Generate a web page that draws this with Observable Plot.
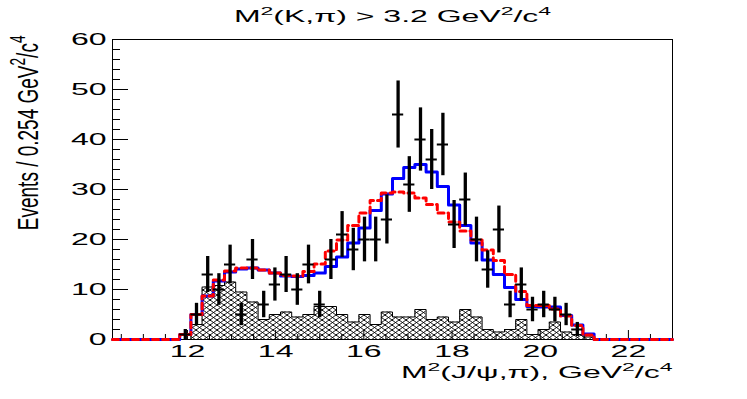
<!DOCTYPE html>
<html><head><meta charset="utf-8">
<script src="https://cdn.jsdelivr.net/npm/d3@7"></script>
<script src="https://cdn.jsdelivr.net/npm/@observablehq/plot@0.6"></script>
<style>
html,body{margin:0;padding:0;background:#fff;}
</style>
</head><body>
<div id="chart"></div>
<script>
// ---- data ----
const xMin = 10.3;
const xMax = 23.0;
const binWidth = 0.254;

// observed events per bin (50 bins)
const dataCounts = [0,0,0,0,0,0,1,5,13,10,15,5,16,7,11,13,10,15,7,16,21,18,20,20,24,45,31,40,36,39,23,28,20,14,22,7,11,6,7,6,5,2,0,0,0,0,0,0,0,0];
// total fit (blue solid)
const fitBlue = [0,0,0,0,0,0,1,5,8.7,11.7,13.5,14.1,14.3,13.9,13.3,12.7,12.6,12.8,13.3,14.6,16.5,19.3,22.3,25.8,29.1,32.2,34.4,35,33.5,30.6,26.9,22.8,19.3,15.9,13,10.4,8,6.6,6.5,6.5,4.8,2.9,1.1,0,0,0,0,0,0,0];
// alternative fit (red dashed)
const fitRed = [0,0,0,0,0,0,1,5,8.7,11.9,13.7,14.3,14.3,13.9,13.3,12.8,12.7,13.6,15.1,17.7,19.9,22.8,25.3,27.8,29.3,29.5,29.3,28.3,27,25.3,23.5,21.7,19.9,17.9,15.8,13,9.6,6.8,6.8,6.1,4.7,2.8,0.9,0,0,0,0,0,0,0];
// background (hatched)
const background = [0,0,0,0,0,0,0,3,10.5,10.8,11.5,9.5,7.5,4,5,5.5,4.5,5,6.6,6.6,5,3.5,5,3,5.5,4.5,4.5,6,4,4.5,3.5,6,4.5,2,1.5,2,4,1,2,3.5,1.5,1,0.5,0,0,0,0,0,0,0];

const xTicks = [12,14,16,18,20,22];
const yTicks = [0,10,20,30,40,50,60];
const xMinorStep = 0.5;
const yMinorStep = 2;

const titleText = "M\u00B2(K,\u03C0) > 3.2 GeV\u00B2/c\u2074";
const xLabel = "M\u00B2(J/\u03C8,\u03C0), GeV\u00B2/c\u2074";
const yLabel = "Events / 0.254 GeV\u00B2/c\u2074";

// ---- derived tables ----
const edge = i => xMin + i * binWidth;
const steps = vals => vals.map((v, i) => ({x: edge(i), y: v})).concat([{x: edge(vals.length), y: vals[vals.length - 1]}]);
const pts = dataCounts.map((n, i) => ({n, c: edge(i) + binWidth / 2, x1: edge(i), x2: edge(i + 1)})).filter(d => d.n > 0);
const xMinor = d3.range(10.5, xMax + 1e-9, xMinorStep).filter(v => !xTicks.some(t => Math.abs(t - v) < 1e-9));
const yMinor = d3.range(0, 60 + 1e-9, yMinorStep).filter(v => !yTicks.includes(v));

const FS = 16;
const FSY = 19;
const svg = Plot.plot({
  width: 747, height: 399,
  marginLeft: 112, marginRight: 75, marginTop: 39, marginBottom: 60,
  x: {domain: [xMin, xMax], axis: null},
  y: {domain: [0, 60], axis: null},
  style: {fontFamily: "'Liberation Sans', Arial, Helvetica, sans-serif", background: "white", color: "black"},
  marks: [
    Plot.areaY(steps(background), {x: "x", y: "y", curve: "step-after", fill: "url(#xhatch)"}),
    Plot.line(steps(background), {x: "x", y: "y", curve: "step-after", stroke: "black", strokeWidth: 1}),
    Plot.frame({stroke: "black", strokeWidth: 1}),
    Plot.tickY(yTicks, {y: d => d, insetRight: 560 - 16, stroke: "black"}),
    Plot.tickY(yMinor, {y: d => d, insetRight: 560 - 8, stroke: "black"}),
    Plot.tickX(xTicks, {x: d => d, insetTop: 300 - 9, stroke: "black"}),
    Plot.tickX(xMinor, {x: d => d, insetTop: 300 - 5, stroke: "black"}),
    Plot.line(steps(fitBlue), {x: "x", y: "y", curve: "step-after", stroke: "#0000ff", strokeWidth: 3}),
    Plot.line(steps(fitRed), {x: "x", y: "y", curve: "step-after", stroke: "#ff0000", strokeWidth: 3, strokeDasharray: "6,4"}),
    Plot.ruleX(pts, {x: "c", y1: d => d.n - Math.sqrt(d.n), y2: d => d.n + Math.sqrt(d.n), stroke: "black", strokeWidth: 3.3}),
    Plot.ruleY(pts, {y: "n", x1: "x1", x2: "x2", stroke: "black", strokeWidth: 2}),
    Plot.text(yTicks, {y: d => d, text: d => String(d), frameAnchor: "left", dx: -6, textAnchor: "end", lineAnchor: "middle", fontSize: FS, ariaDescription: "ytl"}),
    Plot.text(xTicks, {x: d => d, text: d => String(d), frameAnchor: "bottom", dy: 6, lineAnchor: "top", fontSize: FS, ariaDescription: "xtl"}),
    Plot.text([titleText], {text: d => d, frameAnchor: "top", dy: -18, lineAnchor: "bottom", fontSize: FS, ariaDescription: "ttl"}),
    Plot.text([xLabel], {text: d => d, frameAnchor: "bottom-right", dy: 38, textAnchor: "end", lineAnchor: "bottom", fontSize: FS, ariaDescription: "xlab"}),
    Plot.text([yLabel], {text: d => d, frameAnchor: "top-left", dx: -75, dy: -4, rotate: -90, textAnchor: "end", lineAnchor: "bottom", fontSize: FSY, ariaDescription: "ylab"})
  ]
});

// hatch pattern
const defs = d3.select(svg).insert("defs", ":first-child");
const pat = defs.append("pattern").attr("id", "xhatch").attr("patternUnits", "userSpaceOnUse").attr("width", 7).attr("height", 5);
pat.append("rect").attr("width", 7).attr("height", 5).attr("fill", "white");
pat.append("path").attr("d", "M0,0L7,5M0,5L7,0M-1,-0.714L1,0.714M6,-0.714L8,0.714M-1,5.714L1,4.286M6,5.714L8,4.286").attr("stroke", "black").attr("stroke-width", 0.9).attr("fill", "none");

// ROOT-like superscripts (larger than the Unicode ones)
const supMap = {"\u00B2": "2", "\u2074": "4"};
function superscripts(label, fs) {
  svg.querySelectorAll(`g[aria-description="${label}"] text`).forEach(t => {
    const s = t.textContent;
    const runs = [];
    for (const ch of s) {
      const sup = ch in supMap;
      const c = sup ? supMap[ch] : ch;
      if (runs.length && runs[runs.length - 1].sup === sup) runs[runs.length - 1].text += c;
      else runs.push({sup, text: c});
    }
    t.textContent = "";
    const shift = 0.42 * fs;
    runs.forEach((r, i) => {
      const ts = document.createElementNS("http://www.w3.org/2000/svg", "tspan");
      ts.textContent = r.text;
      if (r.sup) { ts.setAttribute("font-size", (0.72 * fs).toFixed(1)); ts.setAttribute("dy", (-shift).toFixed(1)); }
      else if (i > 0) ts.setAttribute("dy", shift.toFixed(1));
      t.appendChild(ts);
    });
  });
}
superscripts("ttl", FS);
superscripts("xlab", FS);
superscripts("ylab", FSY);

// horizontally stretched text, like the reference
function stretch(label, sx) {
  svg.querySelectorAll(`g[aria-description="${label}"] text`).forEach(t => {
    const tr = t.getAttribute("transform") || "";
    if (tr.includes("rotate")) t.setAttribute("transform", tr.replace(/rotate\(/, `scale(${sx},1) rotate(`));
    else t.setAttribute("transform", tr + ` scale(${sx},1)`);
  });
}
stretch("ytl", 2.0);
stretch("xtl", 2.0);
stretch("ttl", 2.0);
stretch("xlab", 2.0);
stretch("ylab", 1.6);

document.getElementById("chart").appendChild(svg);
</script>
</body></html>
